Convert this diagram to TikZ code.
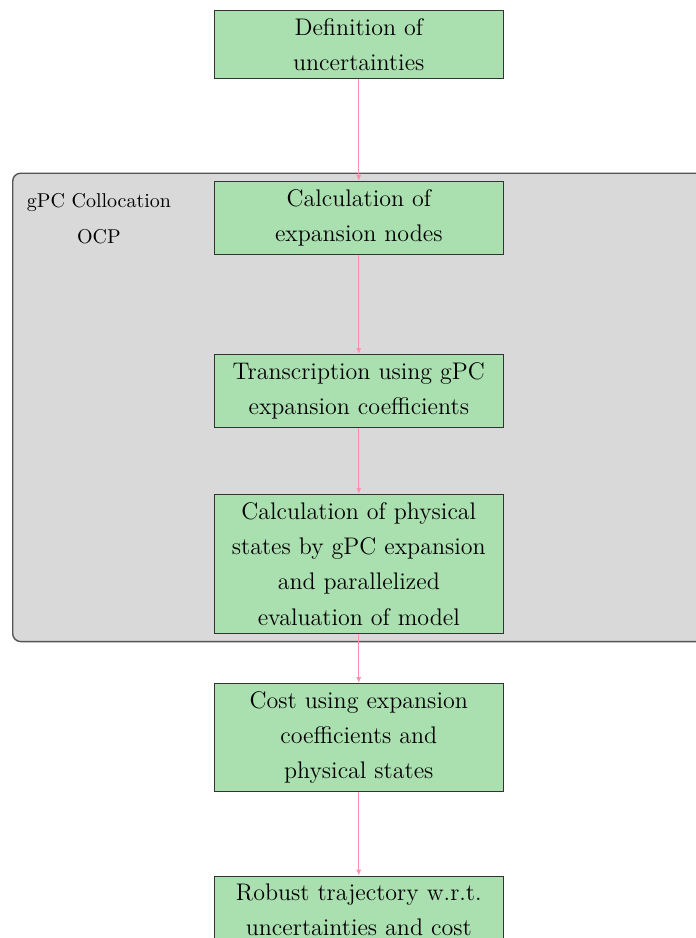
\documentclass[tikz,border=0pt]{standalone}
\usetikzlibrary{arrows.meta}
\definecolor{boxgreen}{RGB}{170,223,176}
\definecolor{groupgray}{RGB}{217,217,217}
\definecolor{groupline}{RGB}{85,85,85}
\definecolor{flowpink}{RGB}{255,143,175}
\tikzset{
  stepbox/.style={draw=black!80, line width=0.5pt, fill=boxgreen, anchor=north,
    minimum width=144.5pt, text width=136pt, inner sep=4pt, align=center,
    font=\fontsize{12}{17.6}\selectfont},
  groupbox/.style={draw=groupline, line width=0.7pt, fill=groupgray,
    rounded corners=4pt, anchor=north west, inner sep=0pt},
  grouplabel/.style={align=center, font=\fontsize{10}{18}\selectfont, anchor=north},
  flow/.style={draw=flowpink, line width=0.6pt, -{Latex[length=3pt,width=2.6pt]}}
}
\begin{document}
\begin{tikzpicture}[x=0.5pt,y=-0.5pt]
\useasboundingbox (0,0) rectangle (696,938);

% collocation block behind the inner steps
\node[groupbox, minimum width=364pt, minimum height=234.2pt] (grp) at (12,172.5) {};
\node[grouplabel] (grplabel) at (99,186) {gPC Collocation\\OCP};

% process steps
\node[stepbox] (def)   at (358.8,10)  {Definition of\\uncertainties};
\node[stepbox] (nodes) at (358.8,181) {Calculation of\\expansion nodes};
\node[stepbox] (trans) at (358.8,354) {Transcription using gPC\\expansion coefficients};
\node[stepbox] (phys)  at (358.8,494) {Calculation of physical\\states by gPC expansion\\and parallelized\\evaluation of model};
\node[stepbox] (cost)  at (358.8,683) {Cost using expansion\\coefficients and\\physical states};
\node[stepbox] (robust) at (358.8,875.5) {Robust trajectory w.r.t.\\uncertainties and cost};

% flow between steps
\draw[flow] (def) -- (nodes);
\draw[flow] (nodes) -- (trans);
\draw[flow] (trans) -- (phys);
\draw[flow] (phys) -- (cost);
\draw[flow] (cost) -- (robust);
\end{tikzpicture}
\end{document}
